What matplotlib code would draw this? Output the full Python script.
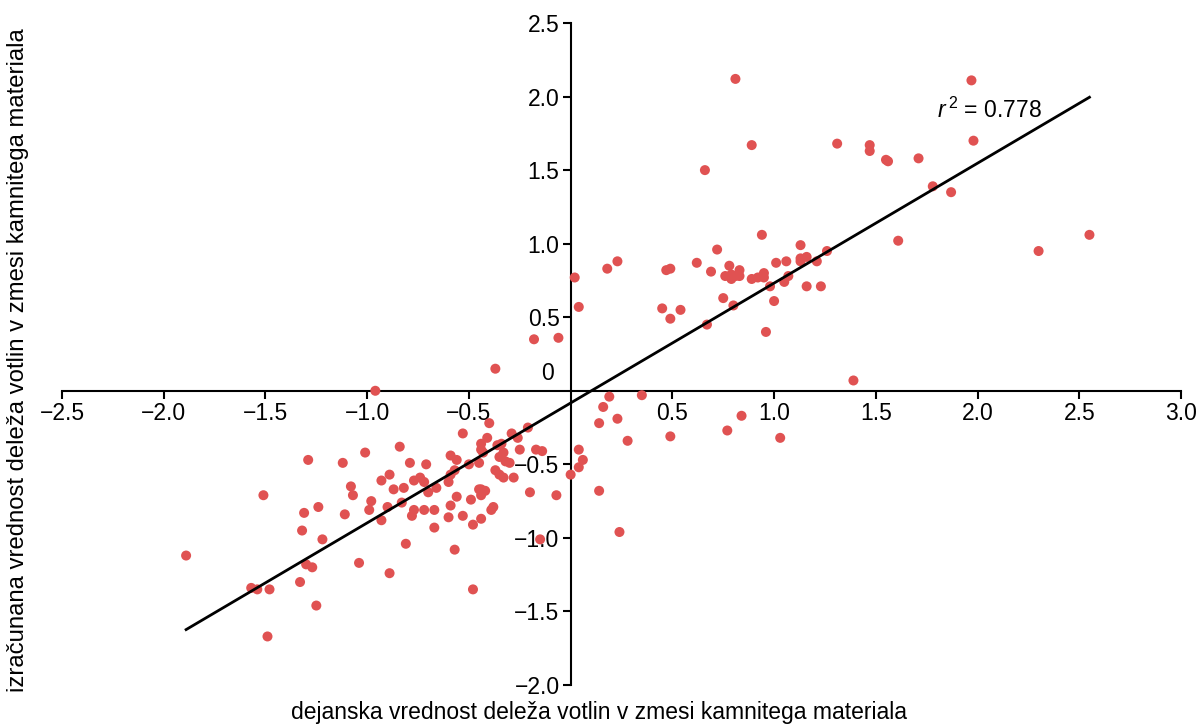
import numpy as np
import matplotlib
matplotlib.use("Agg")
import matplotlib.pyplot as plt

plt.rcParams['font.family'] = ['Liberation Sans', 'DejaVu Sans']
plt.rcParams['mathtext.fontset'] = 'custom'
plt.rcParams['mathtext.rm'] = 'Liberation Sans'
plt.rcParams['mathtext.it'] = 'Liberation Sans:italic'

# dejanska (x) / izracunana (y) vrednost
x_upper = [0.81, 1.97, 0.89, 1.31, 1.47, 1.47, 1.55, 1.56, 1.71, 1.98, 1.78, 1.87,
           1.61, 2.30, 2.55, 1.39, 0.66]
y_upper = [2.12, 2.11, 1.67, 1.68, 1.67, 1.63, 1.57, 1.56, 1.58, 1.70, 1.39, 1.35,
           1.02, 0.95, 1.06, 0.07, 1.50]

x_mid = [0.94, 0.72, 1.13, 0.47, 0.49, 0.62, 0.69, 0.78, 0.76, 0.79, 0.83, 0.83,
         0.79, 0.81, 0.89, 0.92, 0.95, 0.95, 1.01, 1.06, 1.13, 1.13, 1.16, 1.21,
         1.26, 1.07, 1.05, 0.98, 1.16, 1.23, 0.75, 0.80, 1.00, 0.45, 0.54, 0.49,
         0.67, 0.96,
         0.02, 0.04, 0.18, 0.23, -0.06, -0.18, -0.37, -0.96]
y_mid = [1.06, 0.96, 0.99, 0.82, 0.83, 0.87, 0.81, 0.85, 0.78, 0.79, 0.82, 0.78,
         0.76, 0.78, 0.76, 0.77, 0.80, 0.77, 0.87, 0.88, 0.90, 0.88, 0.91, 0.88,
         0.95, 0.78, 0.74, 0.71, 0.71, 0.71, 0.63, 0.58, 0.61, 0.56, 0.55, 0.49,
         0.45, 0.40,
         0.77, 0.57, 0.83, 0.88, 0.36, 0.35, 0.15, 0.00]

x_right_neg = [0.19, 0.35, 0.16, 0.23, 0.14, 0.28, 0.49, 0.77, 0.84, 1.03, 0.04,
               0.06, 0.04, 0.00, 0.14, 0.24]
y_right_neg = [-0.04, -0.03, -0.11, -0.19, -0.22, -0.34, -0.31, -0.27, -0.17, -0.32,
               -0.40, -0.47, -0.52, -0.57, -0.68, -0.96]

x_left_neg = [-0.21, -0.29, -0.26, -0.25, -0.17, -0.14, -0.20, -0.07, -0.15, -0.48,
              -0.57, -0.89, -0.81,
              -0.40, -0.53, -0.41, -0.44, -0.44, -0.43, -0.36, -0.34, -0.33, -0.35,
              -0.32, -0.30, -0.59, -0.56, -0.50, -0.45, -0.57, -0.59, -0.60, -0.37,
              -0.35, -0.33, -0.28, -0.45, -0.44, -0.42, -0.44, -0.49, -0.56, -0.59,
              -0.53, -0.60, -0.44, -0.48, -0.39, -0.38, -0.67, -0.67, -0.72, -0.77,
              -0.78, -0.77, -0.74, -0.72, -0.71, -0.66, -0.79, -0.82, -0.83, -0.84,
              -0.70]
y_left_neg = [-0.25, -0.29, -0.32, -0.40, -0.40, -0.41, -0.69, -0.71, -1.01, -1.35,
              -1.08, -1.24, -1.04,
              -0.22, -0.29, -0.32, -0.36, -0.40, -0.42, -0.37, -0.36, -0.42, -0.45,
              -0.48, -0.49, -0.44, -0.47, -0.50, -0.49, -0.54, -0.57, -0.62, -0.54,
              -0.57, -0.59, -0.59, -0.67, -0.67, -0.68, -0.71, -0.74, -0.72, -0.78,
              -0.85, -0.86, -0.87, -0.91, -0.81, -0.79, -0.81, -0.93, -0.81, -0.81,
              -0.85, -0.61, -0.59, -0.62, -0.50, -0.66, -0.49, -0.66, -0.76, -0.38,
              -0.69]

x_far_left = [-1.51, -1.29, -1.12, -1.01, -0.89, -0.93, -1.08, -1.07, -0.87, -0.98,
              -0.99, -0.90, -1.24, -1.31, -1.11, -0.93, -1.32, -1.22, -1.30, -1.27,
              -1.04, -1.89, -1.57, -1.54, -1.48, -1.49, -1.33, -1.25]
y_far_left = [-0.71, -0.47, -0.49, -0.42, -0.57, -0.61, -0.65, -0.71, -0.67, -0.75,
              -0.81, -0.79, -0.79, -0.83, -0.84, -0.88, -0.95, -1.01, -1.18, -1.20,
              -1.17, -1.12, -1.34, -1.35, -1.35, -1.67, -1.30, -1.46]

fit_slope = 0.815
fit_intercept = -0.083
r2_text = "0.778"

x_ticks = [-2.5, -2.0, -1.5, -1.0, -0.5, 0.5, 1.0, 1.5, 2.0, 2.5, 3.0]
y_ticks = [2.5, 2.0, 1.5, 1.0, 0.5, -0.5, -1.0, -1.5, -2.0]

x_all = np.array(x_upper + x_mid + x_right_neg + x_left_neg + x_far_left)
y_all = np.array(y_upper + y_mid + y_right_neg + y_left_neg + y_far_left)

fig = plt.figure(figsize=(11.99, 7.24), dpi=100)
ax = fig.add_axes([62/1199, 1 - 685/724, (1181-62)/1199, (685-23)/724])

ax.scatter(x_all, y_all, s=52, color='#e05252', edgecolors='none', zorder=3)

xl = np.array([x_all.min(), x_all.max()])
ax.plot(xl, fit_slope * xl + fit_intercept, color='black', lw=2, zorder=4)

ax.set_xlim(-2.5, 3.0)
ax.set_ylim(-2.0, 2.5)
ax.spines['left'].set_position(('data', 0))
ax.spines['bottom'].set_position(('data', 0))
ax.spines['top'].set_visible(False)
ax.spines['right'].set_visible(False)
for s in ['left', 'bottom']:
    ax.spines[s].set_linewidth(1.5)

def fmt(v):
    return '\u2212' + f"{abs(v):.1f}" if v < 0 else f"{v:.1f}"

ax.set_xticks(x_ticks)
ax.set_xticklabels([fmt(v) for v in x_ticks])
ax.set_yticks(y_ticks)
ax.set_yticklabels([fmt(v) for v in y_ticks])
ax.tick_params(axis='both', labelsize=16.5, width=1.5, length=6, direction='out', pad=2)
ax.text(-0.08, 0.04, "0", fontsize=16.5, ha='right', va='bottom')

ax.text(1.80, 1.82, r"$r^{\,2}$ = " + r2_text, fontsize=16.5, ha='left', va='bottom')

fig.text(599/1199, 1 - 713/724, "dejanska vrednost deleža votlin v zmesi kamnitega materiala",
         fontsize=16.5, ha='center', va='center')
fig.text(18/1199, 1 - 360/724, "izračunana vrednost deleža votlin v zmesi kamnitega materiala",
         fontsize=17.2, ha='center', va='center', rotation=90)

fig.savefig("out.png", dpi=100)
